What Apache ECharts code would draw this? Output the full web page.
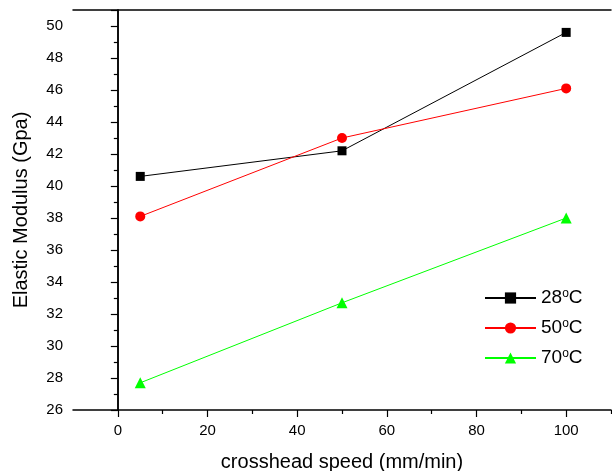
<!DOCTYPE html>
<html><head><meta charset="utf-8">
<script src="https://cdn.jsdelivr.net/npm/echarts@6/dist/echarts.min.js"></script>
<style>html,body{margin:0;padding:0;background:#fff}#c{width:612px;height:471px}</style>
</head><body><div id="c"></div>
<script>
const speeds = [5, 50, 100];
const s28 = [40.6, 42.2, 49.6];
const s50 = [38.1, 43.0, 46.1];
const s70 = [27.7, 32.7, 38.0];
const seriesNames = ['28°C', '50°C', '70°C'];
const xMajorTicks = [0, 20, 40, 60, 80, 100];
const xMinorTicks = [10, 30, 50, 70, 90, 110];
const xTitle = 'crosshead speed (mm/min)';
const yTitle = 'Elastic Modulus (Gpa)';

const pair = (ys) => speeds.map((x, i) => [x, ys[i]]);
const font = 'Liberation Sans, Arial, sans-serif';
const chart = echarts.init(document.getElementById('c'));
const axisLine = {show: true, lineStyle: {color: '#000', width: 1.5}};
chart.setOption({
  animation: false,
  grid: {left: 73, right: 1, top: 10, bottom: 61, containLabel: false, outerBoundsMode: 'none'},
  legend: {
    orient: 'vertical', left: 484, top: 288, padding: 0,
    itemWidth: 51, itemHeight: 14, itemGap: 8,
    data: seriesNames,
    formatter: (n) => n.replace('°C', '{sup|o}C'),
    textStyle: {fontFamily: font, fontSize: 19, lineHeight: 20, color: '#000',
      rich: {sup: {fontFamily: font, fontSize: 12, lineHeight: 20, verticalAlign: 'top', padding: [0,0,10,0], color: '#000'}}}
  },
  xAxis: [{
    type: 'value', min: -10, max: 110, interval: 10,
    axisLine: axisLine,
    axisTick: {show: true, length: 7, customValues: xMajorTicks, lineStyle: {color: '#000', width: 1.2}},
    axisLabel: {color: '#000', fontSize: 15, fontFamily: font, margin: 13, customValues: xMajorTicks},
    splitLine: {show: false},
    name: xTitle, nameLocation: 'middle', nameGap: 42,
    nameTextStyle: {color: '#000', fontSize: 20, fontFamily: font}
  }, {
    type: 'value', position: 'top', min: -10, max: 110, interval: 10,
    axisLine: axisLine, axisTick: {show: false}, axisLabel: {show: false}, splitLine: {show: false}
  }, {
    type: 'value', position: 'bottom', min: -10, max: 110, interval: 10,
    axisLine: {show: false},
    axisTick: {show: true, length: 4, customValues: xMinorTicks, lineStyle: {color: '#000', width: 1.2}},
    axisLabel: {show: false}, splitLine: {show: false}
  }],
  yAxis: [{
    type: 'value', min: 26, max: 51, interval: 2,
    axisLine: axisLine,
    axisTick: {show: true, length: 7, lineStyle: {color: '#000', width: 1.2}},
    minorTick: {show: true, splitNumber: 2, length: 4, lineStyle: {color: '#000', width: 1.2}},
    axisLabel: {color: '#000', fontSize: 15, fontFamily: font, margin: 10,
      formatter: (v) => v > 50 ? '' : v},
    splitLine: {show: false},
    name: yTitle, nameLocation: 'middle', nameGap: 42, nameRotate: 90,
    nameTextStyle: {color: '#000', fontSize: 20, fontFamily: font}
  }, {
    type: 'value', position: 'right', min: 26, max: 51,
    axisLine: axisLine, axisTick: {show: false}, axisLabel: {show: false}, splitLine: {show: false}
  }],
  series: [
    {name: seriesNames[0], type: 'line', data: pair(s28), symbol: 'rect', symbolSize: 9,
     lineStyle: {color: '#000', width: 1}, itemStyle: {color: '#000'}},
    {name: seriesNames[1], type: 'line', data: pair(s50), symbol: 'circle', symbolSize: 10,
     lineStyle: {color: '#ff0000', width: 1}, itemStyle: {color: '#ff0000'}},
    {name: seriesNames[2], type: 'line', data: pair(s70), symbol: 'triangle', symbolSize: 11,
     lineStyle: {color: '#00ff00', width: 1}, itemStyle: {color: '#00ff00'}}
  ]
});
</script></body></html>
